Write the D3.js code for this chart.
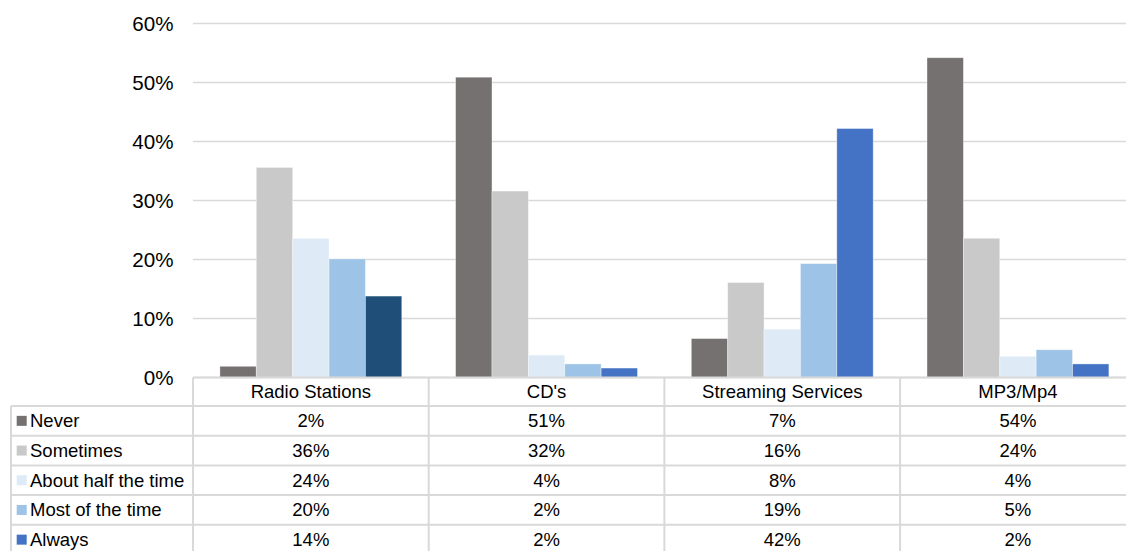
<!DOCTYPE html>
<html>
<head>
<meta charset="utf-8">
<script src="https://cdn.jsdelivr.net/npm/d3@7"></script>
<style>
  html, body { margin: 0; padding: 0; background: #fff; }
  svg { display: block; font-family: "Liberation Sans", Arial, sans-serif; }
</style>
</head>
<body>
<svg id="chart" width="1126" height="551"></svg>
<script>
// Listening sources and how often each is used
const categories = ["Radio Stations", "CD's", "Streaming Services", "MP3/Mp4"];
const seriesNames = ["Never", "Sometimes", "About half the time", "Most of the time", "Always"];

// Share of respondents per frequency, one array per series (ordered as categories)
const never      = [0.019, 0.509, 0.066, 0.542];
const sometimes  = [0.356, 0.316, 0.161, 0.236];
const aboutHalf  = [0.236, 0.038, 0.082, 0.036];
const mostTime   = [0.201, 0.023, 0.193, 0.047];
const always     = [0.138, 0.016, 0.422, 0.023];

const yTicks = [0, 0.1, 0.2, 0.3, 0.4, 0.5, 0.6];

const seriesValues = [never, sometimes, aboutHalf, mostTime, always];
const seriesColors = ["#767171", "#C9C9C9", "#DEEBF7", "#9DC3E6", "#4472C4"];
// individual point colour overrides: [seriesIndex, categoryIndex, colour]
const pointColors = [[4, 0, "#1F4E79"]];

const svg = d3.select("#chart");
const plotLeft = 193, plotRight = 1135.8;
const plotTop = 23.5, plotBottom = 377.5;

const x0 = d3.scaleBand().domain(categories).range([plotLeft, plotRight]).paddingInner(0).paddingOuter(0);
const x1 = d3.scaleBand().domain(seriesNames).range([0, x0.bandwidth()]).paddingInner(0).paddingOuter(0.74);
const y = d3.scaleLinear().domain([0, 0.6]).range([plotBottom, plotTop]);

const gridColor = "#D9D9D9";

// horizontal gridlines
svg.append("g")
  .selectAll("line")
  .data(yTicks)
  .join("line")
  .attr("x1", plotLeft)
  .attr("x2", plotRight)
  .attr("y1", d => y(d))
  .attr("y2", d => y(d))
  .attr("stroke", gridColor)
  .attr("stroke-width", 1.4);

// y axis labels
const yAxis = d3.axisLeft(y).tickValues(yTicks).tickFormat(d3.format(".0%")).tickSize(0).tickPadding(0);
const yg = svg.append("g").attr("transform", `translate(173.5,0)`).call(yAxis);
yg.select(".domain").remove();
yg.selectAll("text")
  .attr("font-size", 20.6)
  .attr("fill", "#000")
  .attr("font-family", "'Liberation Sans', Arial, sans-serif");

// bars
const colorFor = (si, ci) => {
  const o = pointColors.find(p => p[0] === si && p[1] === ci);
  return o ? o[2] : seriesColors[si];
};

const bars = [];
seriesValues.forEach((vals, si) => {
  vals.forEach((v, ci) => bars.push({ si, ci, v }));
});

svg.append("g")
  .selectAll("rect")
  .data(bars)
  .join("rect")
  .attr("x", d => x0(categories[d.ci]) + x1(seriesNames[d.si]))
  .attr("width", x1.bandwidth())
  .attr("y", d => y(d.v))
  .attr("height", d => y(0) - y(d.v))
  .attr("fill", d => colorFor(d.si, d.ci))
  .attr("stroke", "rgba(255,255,255,0.45)")
  .attr("stroke-width", 0.8);

// data table under the plot
const headerTop = plotBottom;
const headerH = 28.5;
const rowH = 29.7;
const tableLeft = 11;
const fmt = d3.format(".0%");
const table = svg.append("g");
const rowsTop = headerTop + headerH;
const tableBottom = rowsTop + rowH * seriesNames.length;

// horizontal rules
table.append("line")
  .attr("x1", plotLeft).attr("x2", plotRight)
  .attr("y1", headerTop).attr("y2", headerTop)
  .attr("stroke", gridColor).attr("stroke-width", 2);
d3.range(seriesNames.length + 1).forEach(i => {
  table.append("line")
    .attr("x1", tableLeft).attr("x2", plotRight)
    .attr("y1", rowsTop + i * rowH).attr("y2", rowsTop + i * rowH)
    .attr("stroke", gridColor).attr("stroke-width", 2);
});

// vertical rules
table.append("line")
  .attr("x1", tableLeft).attr("x2", tableLeft)
  .attr("y1", rowsTop).attr("y2", tableBottom)
  .attr("stroke", gridColor).attr("stroke-width", 2);
categories.concat([null]).forEach((c, i) => {
  const xx = c === null ? plotRight : x0(c);
  table.append("line")
    .attr("x1", xx).attr("x2", xx)
    .attr("y1", headerTop).attr("y2", tableBottom)
    .attr("stroke", gridColor).attr("stroke-width", 2);
});

// category header
table.selectAll("text.cat")
  .data(categories)
  .join("text")
  .attr("class", "cat")
  .attr("x", d => x0(d) + x0.bandwidth() / 2)
  .attr("y", headerTop + headerH / 2)
  .attr("dy", "0.35em")
  .attr("text-anchor", "middle")
  .attr("font-size", 18.5)
  .attr("fill", "#000")
  .text(d => d);

// series rows: legend key, name and values
seriesNames.forEach((name, si) => {
  const cy = rowsTop + si * rowH + rowH / 2;
  table.append("rect")
    .attr("x", 16.7).attr("y", cy - 5)
    .attr("width", 10).attr("height", 10)
    .attr("fill", seriesColors[si]);
  table.append("text")
    .attr("x", 30).attr("y", cy)
    .attr("dy", "0.35em")
    .attr("font-size", 18.5)
    .attr("fill", "#000")
    .text(name);
  seriesValues[si].forEach((v, ci) => {
    table.append("text")
      .attr("x", x0(categories[ci]) + x0.bandwidth() / 2)
      .attr("y", cy)
      .attr("dy", "0.35em")
      .attr("text-anchor", "middle")
      .attr("font-size", 18.5)
      .attr("fill", "#000")
      .text(fmt(v));
  });
});
</script>
</body>
</html>
